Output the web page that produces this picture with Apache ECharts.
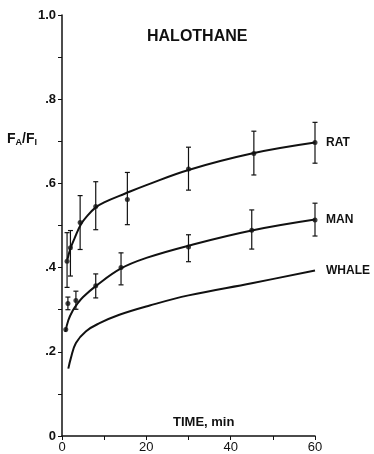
<!DOCTYPE html>
<html><head><meta charset="utf-8">
<script src="https://cdn.jsdelivr.net/npm/echarts@6/dist/echarts.min.js"></script>
<style>html,body{margin:0;padding:0;background:#fff}#c{width:374px;height:454px}</style>
</head><body><div id="c"></div>
<script>
// Measured data points (time in min, FA/FI)
const ratT  = [1.2, 2, 4.3, 8, 15.5, 30, 45.5, 60];
const ratV  = [0.415, 0.447, 0.507, 0.545, 0.562, 0.634, 0.671, 0.697];
const ratLo = [0.353, 0.38, 0.443, 0.49, 0.502, 0.584, 0.62, 0.648];
const ratHi = [0.483, 0.488, 0.571, 0.604, 0.626, 0.686, 0.724, 0.745];

const manT  = [0.9, 1.4, 3.3, 8, 14, 30, 45, 60];
const manV  = [0.253, 0.315, 0.322, 0.357, 0.40, 0.449, 0.489, 0.513];
const manLo = [0.253, 0.30, 0.301, 0.328, 0.359, 0.414, 0.444, 0.475];
const manHi = [0.253, 0.33, 0.344, 0.385, 0.435, 0.478, 0.537, 0.553];

// Fitted curves
const ratCurveT = [1.3, 2, 3, 4.5, 6, 8, 10, 15, 20, 30, 45, 60];
const ratCurveV = [0.42, 0.445, 0.47, 0.503, 0.523, 0.543, 0.555, 0.576, 0.596, 0.632, 0.671, 0.697];
const manCurveT = [0.8, 1.5, 2.5, 3.5, 5, 8, 14, 20, 30, 45, 60];
const manCurveV = [0.247, 0.275, 0.297, 0.312, 0.33, 0.356, 0.398, 0.423, 0.452, 0.488, 0.514];
const whaleCurveT = [1.5, 2.1, 3.3, 5.7, 8.9, 13.6, 20.8, 30, 45, 60];
const whaleCurveV = [0.16, 0.185, 0.221, 0.249, 0.268, 0.288, 0.31, 0.334, 0.363, 0.393];

const xTicks = [0, 20, 40, 60];
const yTickLabels = {0: '0', 2: '.2', 4: '.4', 6: '.6', 8: '.8', 10: '1.0'};

const FONT = '"Liberation Sans", Arial, sans-serif';
const zip = (a, b) => a.map((v, i) => [v, b[i]]);

function errSeries(T, V, Lo, Hi) {
  return {
    type: 'custom',
    data: T.map((t, i) => [t, V[i], Lo[i], Hi[i]]),
    renderItem: function (params, api) {
      const lo = api.value(2), hi = api.value(3);
      if (hi - lo < 0.005) return null;
      const p1 = api.coord([api.value(0), hi]);
      const p2 = api.coord([api.value(0), lo]);
      const w = 2.5;
      const st = {stroke: '#111', lineWidth: 1.2};
      return {type: 'group', children: [
        {type: 'line', shape: {x1: p1[0], y1: p1[1], x2: p2[0], y2: p2[1]}, style: st},
        {type: 'line', shape: {x1: p1[0]-w, y1: p1[1], x2: p1[0]+w, y2: p1[1]}, style: st},
        {type: 'line', shape: {x1: p2[0]-w, y1: p2[1], x2: p2[0]+w, y2: p2[1]}, style: st}
      ]};
    },
    z: 3
  };
}

function curve(T, V, name) {
  return {
    type: 'line', data: zip(T, V), smooth: 0.4, showSymbol: false,
    lineStyle: {color: '#111', width: 2},
    endLabel: {show: true, formatter: name, distance: 11, color: '#111',
      fontFamily: FONT, fontWeight: 'bold', fontSize: 12},
    z: 4, silent: true
  };
}

function dots(T, V) {
  return {type: 'scatter', data: zip(T, V), symbol: 'circle', symbolSize: 5,
    itemStyle: {color: '#111'}, z: 5};
}

const chart = echarts.init(document.getElementById('c'), null, {renderer: 'canvas'});
chart.setOption({
  backgroundColor: '#fff',
  animation: false,
  grid: {left: 62, right: 59, top: 15, bottom: 17, containLabel: false},
  xAxis: {
    type: 'value', min: 0, max: 60, interval: 10,
    axisLine: {show: true, lineStyle: {color: '#111', width: 1.5}},
    axisTick: {show: true, length: 4, lineStyle: {color: '#111'}},
    splitLine: {show: false},
    axisLabel: {
      margin: 5, color: '#111', fontFamily: FONT, fontSize: 13,
      formatter: v => xTicks.indexOf(Math.round(v)) >= 0 ? String(Math.round(v)) : ''
    }
  },
  yAxis: {
    type: 'value', min: 0, max: 1, interval: 0.1,
    axisLine: {show: true, lineStyle: {color: '#111', width: 1.5}},
    axisTick: {show: true, length: 4, lineStyle: {color: '#111'}},
    splitLine: {show: false},
    axisLabel: {
      margin: 6, color: '#111', fontFamily: FONT, fontSize: 13, fontWeight: 'bold',
      formatter: v => { const r = Math.round(v * 10); return yTickLabels[r] !== undefined ? yTickLabels[r] : ''; }
    }
  },
  graphic: [
    {type: 'text', left: 147, top: 29, style: {text: 'HALOTHANE', fill: '#111',
      font: 'bold 16px ' + FONT}},
    {type: 'text', left: 173, top: 416, style: {text: 'TIME, min', fill: '#111',
      font: 'bold 13px ' + FONT}},
    {type: 'text', left: 7, top: 132, style: {
      text: '{f|F}{s|A}{f|/F}{s|I}', fill: '#111',
      rich: {
        f: {fontFamily: FONT, fontSize: 14, fontWeight: 'bold', fill: '#111'},
        s: {fontFamily: FONT, fontSize: 9, fontWeight: 'bold', fill: '#111', padding: [8, 0, 0, 0]}
      }
    }}
  ],
  series: [
    curve(ratCurveT, ratCurveV, 'RAT'),
    curve(manCurveT, manCurveV, 'MAN'),
    curve(whaleCurveT, whaleCurveV, 'WHALE'),
    errSeries(ratT, ratV, ratLo, ratHi),
    errSeries(manT, manV, manLo, manHi),
    dots(ratT, ratV),
    dots(manT, manV)
  ]
});
</script></body></html>
